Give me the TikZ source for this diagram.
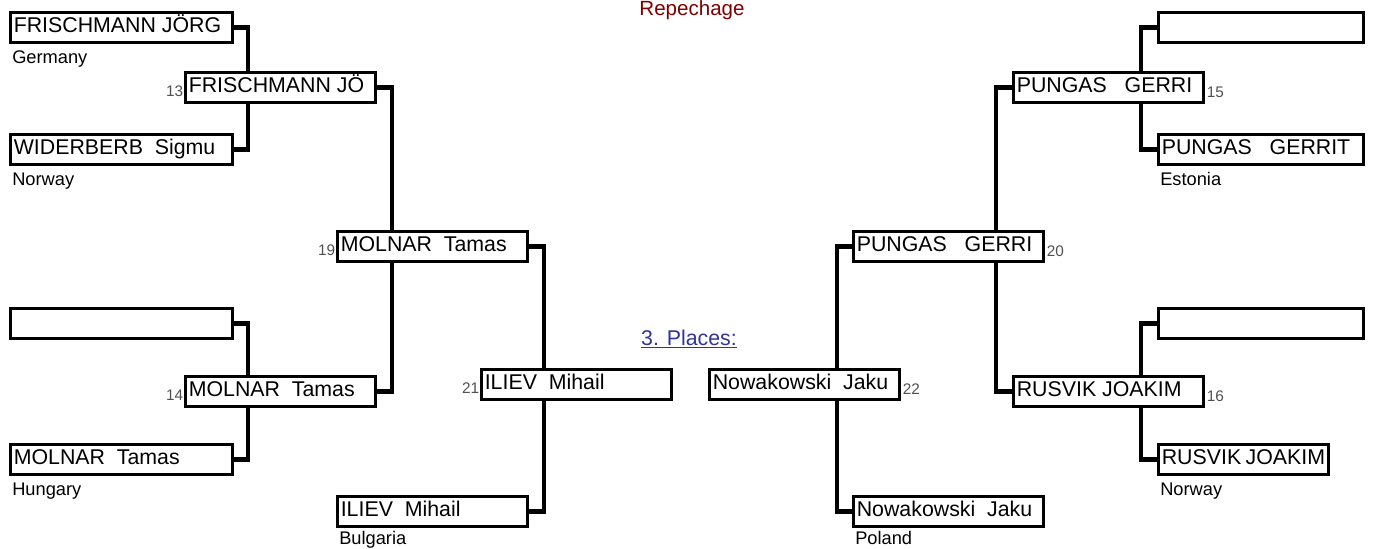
\documentclass[tikz,border=0pt]{standalone}
\usepackage{fontspec}
\setmainfont{Liberation Sans}
\usetikzlibrary{calc}

\newcommand{\namefont}{\fontsize{16}{18}\selectfont}
\newcommand{\landfont}{\fontsize{13.7}{15}\selectfont}
\newcommand{\numfont}{\fontsize{11.5}{13}\selectfont}

\definecolor{repred}{RGB}{128,0,0}
\definecolor{placeblue}{RGB}{51,51,153}
\definecolor{numgray}{RGB}{80,80,80}

\begin{document}
\begin{tikzpicture}[x=0.75pt,y=0.75pt,yscale=-1,xscale=1,
  namebox/.style={draw, line width=2.2pt, inner xsep=2.5pt, inner ysep=0pt,
    minimum height=22.5pt, text height=12pt, text depth=4pt, anchor=north west,
    font=\namefont, execute at begin node={\hbox to #1\bgroup}, execute at end node={\hfil\egroup}},
  outerbox/.style={namebox=161.5pt},
  roundbox/.style={namebox=137.5pt},
  farbox/.style={namebox=148.75pt},
  link/.style={line width=3.5pt},
  land/.style={font=\landfont, anchor=base west, inner sep=0pt},
  bout/.style={font=\numfont, text=numgray, inner sep=0.5pt}]
\useasboundingbox (0,0) rectangle (1373,549);

%Left half: first round
\node[outerbox] (A1) at (9,11) {FRISCHMANN JÖRG};
\node[outerbox] (A2) at (9,133) {WIDERBERB\ \ Sigmu};
\node[outerbox] (A3) at (9,307) {};
\node[outerbox] (A4) at (9,443) {MOLNAR\ \ Tamas};
%Left half: later rounds
\node[roundbox] (B1) at (184,71) {FRISCHMANN JÖ};
\node[roundbox] (B2) at (184,375) {MOLNAR\ \ Tamas};
\node[roundbox] (C1) at (336,230) {MOLNAR\ \ Tamas};
\node[roundbox] (C2) at (336,495) {ILIEV\ \ Mihail};
\node[roundbox] (D1) at (480,368) {ILIEV\ \ Mihail};

%Right half: first round
\node[farbox] (H1) at (1157,11) {};
\node[farbox] (H2) at (1157,133) {PUNGAS\ \ \ GERRIT};
\node[farbox] (H3) at (1157,307) {};
\node[namebox=122.5pt] (H4) at (1157,443) {RUSVIK JOAKIM};
%Right half: later rounds
\node[roundbox] (G1) at (1012,71) {PUNGAS\ \ \ GERRI};
\node[roundbox] (G2) at (1012,375) {RUSVIK JOAKIM};
\node[roundbox] (F1) at (852,230) {PUNGAS\ \ \ GERRI};
\node[roundbox] (F2) at (852,495) {Nowakowski\ \ Jaku};
\node[roundbox] (E1) at (708,368) {Nowakowski\ \ Jaku};

%Straight Lines: left half
\draw[link] (A1.east) -- ++(14,0) coordinate (a1) -- (a1 |- B1.north);
\draw[link] (A2.east) -- ++(14,0) coordinate (a2) -- (a2 |- B1.south);
\draw[link] (A3.east) -- ++(14,0) coordinate (a3) -- (a3 |- B2.north);
\draw[link] (A4.east) -- ++(14,0) coordinate (a4) -- (a4 |- B2.south);
\draw[link] (B1.east) -- ++(15,0) coordinate (b1) -- (b1 |- C1.north);
\draw[link] (B2.east) -- ++(15,0) coordinate (b2) -- (b2 |- C1.south);
\draw[link] (C1.east) -- ++(15,0) coordinate (c1) -- (c1 |- D1.north);
\draw[link] (C2.east) -- ++(15,0) coordinate (c2) -- (c2 |- D1.south);
%Straight Lines: right half
\draw[link] (H1.west) -- ++(-16,0) coordinate (h1) -- (h1 |- G1.north);
\draw[link] (H2.west) -- ++(-16,0) coordinate (h2) -- (h2 |- G1.south);
\draw[link] (H3.west) -- ++(-16,0) coordinate (h3) -- (h3 |- G2.north);
\draw[link] (H4.west) -- ++(-16,0) coordinate (h4) -- (h4 |- G2.south);
\draw[link] (G1.west) -- ++(-16,0) coordinate (g1) -- (g1 |- F1.north);
\draw[link] (G2.west) -- ++(-16,0) coordinate (g2) -- (g2 |- F1.south);
\draw[link] (F1.west) -- ++(-15,0) coordinate (f1) -- (f1 |- E1.north);
\draw[link] (F2.west) -- ++(-15,0) coordinate (f2) -- (f2 |- E1.south);

% Text Node
\node[land] (lA1) at ($(A1.south west)+(3,20)$) {Germany};
\node[land] (lA2) at ($(A2.south west)+(3,20)$) {Norway};
\node[land] (lA4) at ($(A4.south west)+(3,20)$) {Hungary};
\node[land] (lC2) at ($(C2.south west)+(3,17)$) {Bulgaria};
\node[land] (lH2) at ($(H2.south west)+(3,20)$) {Estonia};
\node[land] (lH4) at ($(H4.south west)+(3,20)$) {Norway};
\node[land] (lF2) at ($(F2.south west)+(3,17)$) {Poland};
% Text Node
\node[bout, anchor=base east] (nB1) at ($(B1.south west)+(0,-7)$) {13};
\node[bout, anchor=base east] (nB2) at ($(B2.south west)+(0,-7)$) {14};
\node[bout, anchor=base east] (nC1) at ($(C1.south west)+(0,-7)$) {19};
\node[bout, anchor=base east] (nD1) at ($(D1.south west)+(0,-7)$) {21};
\node[bout, anchor=base west] (nG1) at ($(G1.south east)+(1,-6)$) {15};
\node[bout, anchor=base west] (nG2) at ($(G2.south east)+(1,-6)$) {16};
\node[bout, anchor=base west] (nF1) at ($(F1.south east)+(1,-6)$) {20};
\node[bout, anchor=base west] (nE1) at ($(E1.south east)+(1,-6)$) {22};
% Text Node
\node[anchor=base, font=\fontsize{15.4}{17}\selectfont, text=repred] (title) at (692,16) {Repechage};
\node[anchor=base, font=\fontsize{16}{18}\selectfont, text=placeblue] (places) at (689,345) {\underline{3. Places:}};

\end{tikzpicture}
\end{document}
